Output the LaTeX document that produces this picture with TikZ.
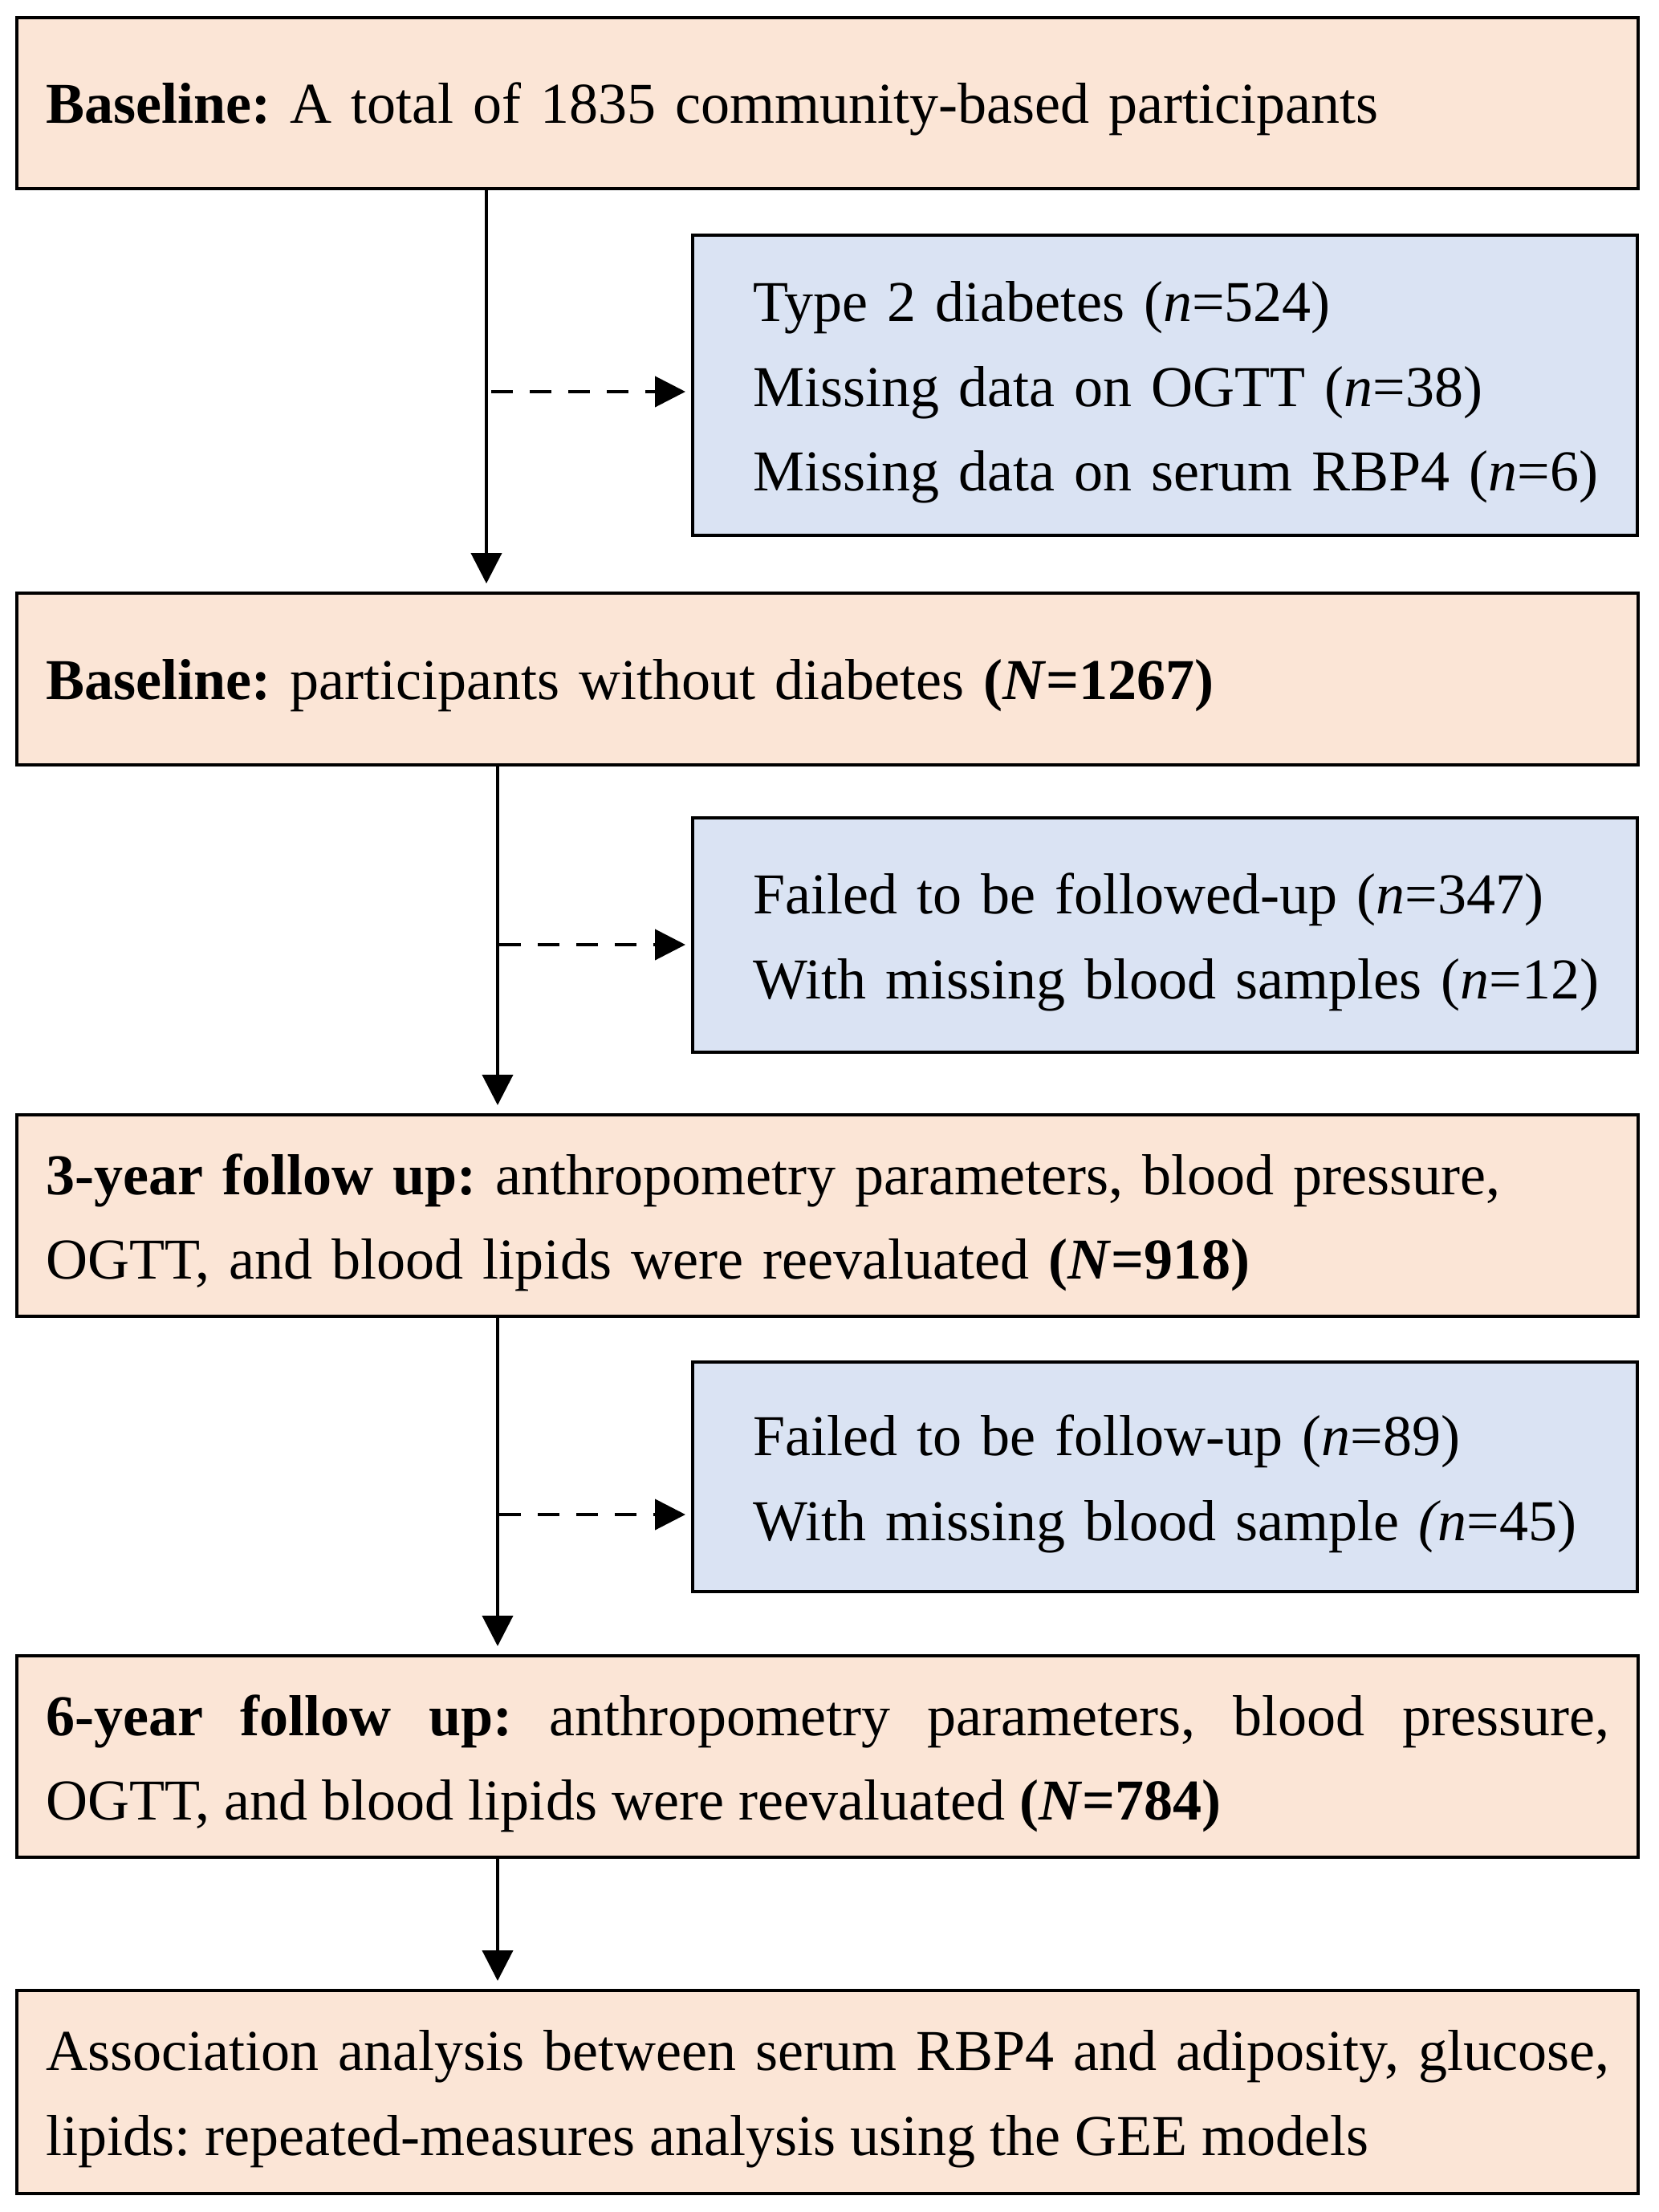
\documentclass[tikz,border=0pt]{standalone}
\usepackage{fontspec}
\setmainfont{Liberation Serif}
\frenchspacing
\usetikzlibrary{arrows.meta}
\definecolor{peach}{HTML}{FBE5D6}
\definecolor{paleblue}{HTML}{DAE3F3}
\begin{document}
\begin{tikzpicture}[font=\fontsize{20.5}{30}\selectfont,
  lower/.style={execute at end node={\endgraf\vspace*{-5pt}}},
  mainbox/.style={draw,line width=0.04cm,fill=peach,inner xsep=0.36cm,inner ysep=0pt,text width=19.48cm,align=left,lower},
  exclbox/.style={draw,line width=0.04cm,fill=paleblue,inner xsep=0.4cm,inner ysep=0pt,text width=10.97cm,align=left,lower,execute at begin node={\leftskip0.35cm}},
  arr/.style={line width=0.04cm,-{Triangle[length=0.38cm,width=0.38cm]},shorten >=0.1cm},
  dasharr/.style={arr,dash pattern=on 0.27cm off 0.21cm,shorten >=0.07cm}]
	\useasboundingbox (0,0) rectangle (20.67,-27.56);

	%main boxes
	\node[mainbox,minimum height=2.13cm] (base) at (10.31,-1.285) {\textbf{Baseline:} A total of 1835 community-based participants};
	\node[mainbox,minimum height=2.14cm] (nodiab) at (10.31,-8.46) {\textbf{Baseline:} participants without diabetes \textbf{(\textit{N}=1267)}};
	\node[mainbox,minimum height=2.51cm] (three) at (10.31,-15.145) {\textbf{3-year follow up:} anthropometry parameters, blood pressure,\\ OGTT, and blood lipids were reevaluated \textbf{(\textit{N}=918)}};
	\node[mainbox,minimum height=2.51cm,align=justify] (six) at (10.31,-21.885) {\textbf{6-year follow up:} anthropometry parameters, blood pressure,\linebreak OGTT, and blood lipids were reevaluated \textbf{(\textit{N}=784)}};
	\node[mainbox,minimum height=2.53cm,align=justify] (gee) at (10.31,-26.065) {Association analysis between serum RBP4 and adiposity, glucose,\linebreak lipids: repeated-measures analysis using the GEE models};

	%exclusion boxes
	\node[exclbox,minimum height=3.74cm] (excl1) at (14.515,-4.8) {Type 2 diabetes (\textit{n}=524)\\ Missing data on OGTT (\textit{n}=38)\\ Missing data on serum RBP4 (\textit{n}=6)};
	\node[exclbox,minimum height=2.92cm] (excl2) at (14.515,-11.65) {Failed to be followed-up (\textit{n}=347)\\ With missing blood samples (\textit{n}=12)};
	\node[exclbox,minimum height=2.86cm] (excl3) at (14.515,-18.4) {Failed to be follow-up (\textit{n}=89)\\ With missing blood sample \textit{(n}=45)};

	%spine and dash starts
	\coordinate (s1) at (6.06,0);
	\coordinate (s2) at (6.2,0);
	\coordinate (d1) at (6.12,-4.88);
	\coordinate (d2) at (6.22,-11.77);
	\coordinate (d3) at (6.22,-18.87);

	%arrows
	\draw[arr] (base.south -| s1) -- (nodiab.north -| s1);
	\draw[arr] (nodiab.south -| s2) -- (three.north -| s2);
	\draw[arr] (three.south -| s2) -- (six.north -| s2);
	\draw[arr] (six.south -| s2) -- (gee.north -| s2);

	%dashed arrows
	\draw[dasharr] (d1) -- (d1 -| excl1.west);
	\draw[dasharr] (d2) -- (d2 -| excl2.west);
	\draw[dasharr] (d3) -- (d3 -| excl3.west);
\end{tikzpicture}
\end{document}
